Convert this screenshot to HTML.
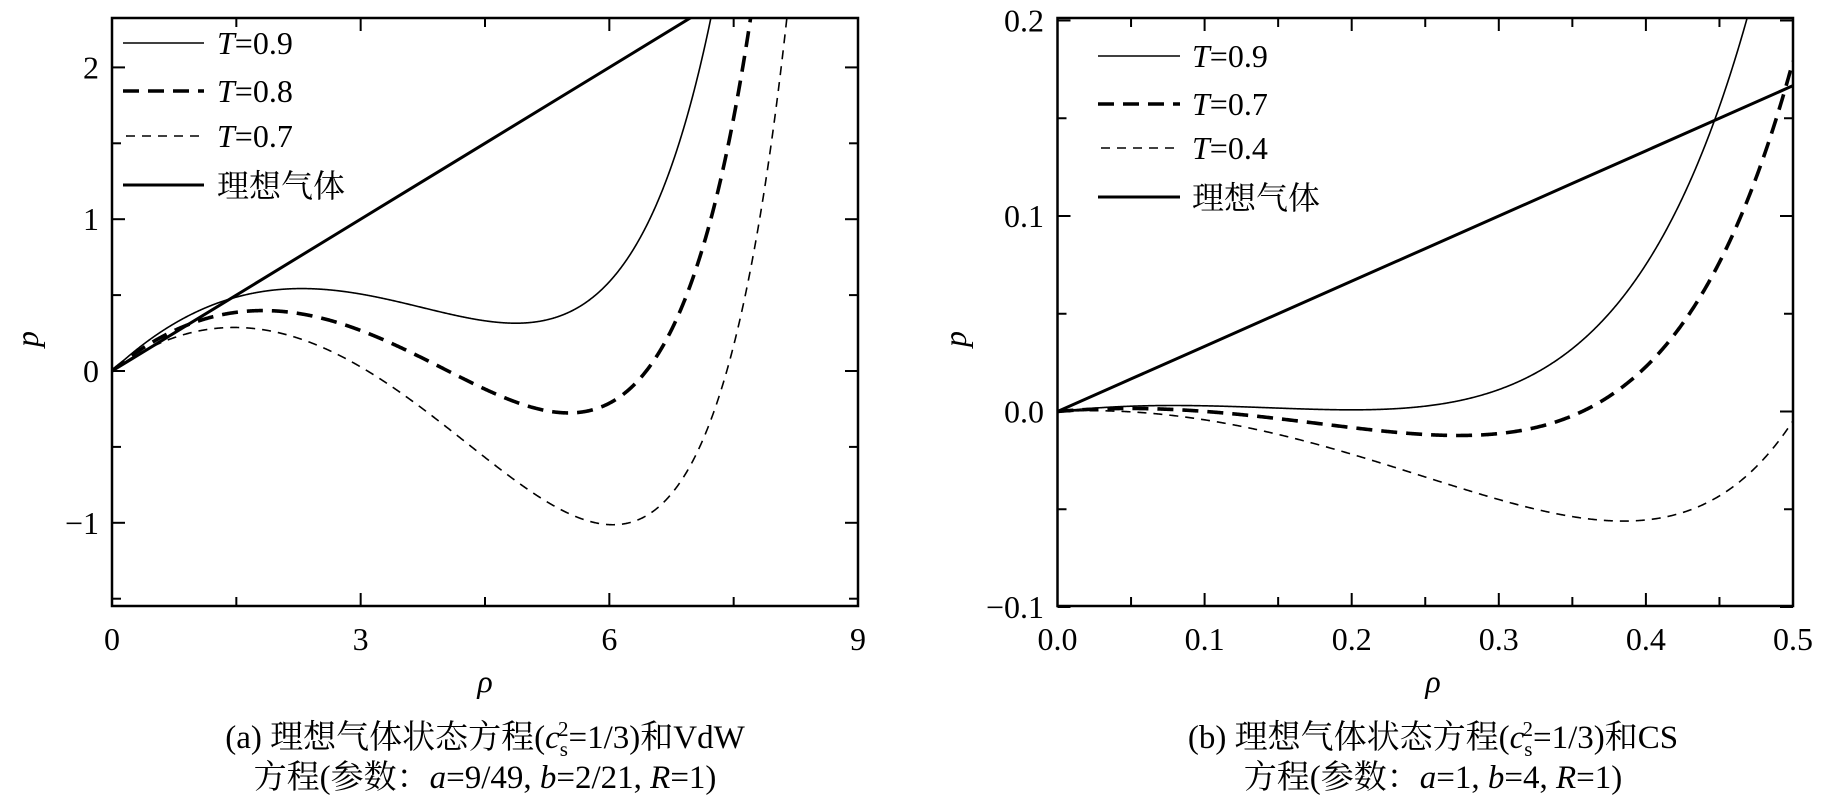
<!DOCTYPE html>
<html><head><meta charset="utf-8">
<style>
html,body{margin:0;padding:0;background:#fff;}
svg{display:block;}
text{font-family:"Liberation Serif","Noto Serif CJK SC","Noto Sans CJK SC",serif;fill:#000;}
</style></head>
<body>
<svg id="s" width="1822" height="795" viewBox="0 0 1822 795" xmlns="http://www.w3.org/2000/svg">
<defs>
<clipPath id="cl"><rect x="112" y="18" width="746" height="588"/></clipPath>
<clipPath id="cr"><rect x="1057.5" y="18" width="735.5" height="588"/></clipPath>
</defs>
<g id="g"></g>
<g stroke="#000" fill="none">
<line x1="123" y1="43" x2="204" y2="43" stroke-width="1.6"/>
<line x1="123" y1="91" x2="204" y2="91" stroke-width="3.6" stroke-dasharray="16,9"/>
<line x1="126" y1="136" x2="204" y2="136" stroke-width="1.6" stroke-dasharray="9,7"/>
<line x1="123" y1="185" x2="204" y2="185" stroke-width="3"/>
<line x1="1098" y1="56" x2="1180" y2="56" stroke-width="1.6"/>
<line x1="1098" y1="104" x2="1180" y2="104" stroke-width="3.6" stroke-dasharray="16,9"/>
<line x1="1101" y1="148" x2="1180" y2="148" stroke-width="1.6" stroke-dasharray="9,7"/>
<line x1="1098" y1="197" x2="1180" y2="197" stroke-width="3"/>
</g>
<g font-size="32">
<text x="217" y="54"><tspan font-style="italic">T</tspan>=0.9</text>
<text x="217" y="102"><tspan font-style="italic">T</tspan>=0.8</text>
<text x="217" y="147"><tspan font-style="italic">T</tspan>=0.7</text>
<text x="217" y="197" font-size="32">理想气体</text>
<text x="1192" y="67"><tspan font-style="italic">T</tspan>=0.9</text>
<text x="1192" y="115"><tspan font-style="italic">T</tspan>=0.7</text>
<text x="1192" y="159"><tspan font-style="italic">T</tspan>=0.4</text>
<text x="1192" y="209" font-size="32">理想气体</text>
</g>
<g font-size="32">
<text x="38" y="339" font-style="italic" transform="rotate(-90 38 339)" text-anchor="middle">p</text>
<text x="966" y="339" font-style="italic" transform="rotate(-90 966 339)" text-anchor="middle">p</text>
<text x="485" y="692" font-style="italic" text-anchor="middle">ρ</text>
<text x="1433" y="692" font-style="italic" text-anchor="middle">ρ</text>
</g>
<g font-size="33" text-anchor="middle">
<text x="485" y="748">(a) 理想气体状态方程(<tspan font-style="italic">c</tspan><tspan font-size="21" dy="8">s</tspan><tspan font-size="21" dx="-10" dy="-20">2</tspan><tspan dy="12">=1/3)和VdW</tspan></text>
<text x="485" y="788">方程(参数：<tspan font-style="italic">a</tspan>=9/49, <tspan font-style="italic">b</tspan>=2/21, <tspan font-style="italic">R</tspan>=1)</text>
<text x="1433" y="748">(b) 理想气体状态方程(<tspan font-style="italic">c</tspan><tspan font-size="21" dy="8">s</tspan><tspan font-size="21" dx="-10" dy="-20">2</tspan><tspan dy="12">=1/3)和CS</tspan></text>
<text x="1433" y="788">方程(参数：<tspan font-style="italic">a</tspan>=1, <tspan font-style="italic">b</tspan>=4, <tspan font-style="italic">R</tspan>=1)</text>
</g>
</svg>
<script>
var NS="http://www.w3.org/2000/svg",g=document.getElementById('g');
function el(t,a,p){var e=document.createElementNS(NS,t);for(var k in a)e.setAttribute(k,a[k]);(p||g).appendChild(e);return e;}
function txt(x,y,s,anc){var e=el('text',{x:x,y:y,'font-size':32,'text-anchor':anc});e.textContent=s;}
var L={x0:112,x1:858,y0:18,y1:606,xs:(858-112)/9,yz:371,ys:151.8};
function LX(v){return L.x0+v*L.xs;} function LY(v){return L.yz-v*L.ys;}
var R={x0:1057.5,x1:1793,y0:18,y1:606,xs:(1793-1057.5)/0.5,yz:411.5,ys:1955};
function RX(v){return R.x0+v*R.xs;} function RY(v){return R.yz-v*R.ys;}
function ticks(A,X,Y,xt,yt){
 xt.forEach(function(t){var len=t[1]?13:9;var x=X(t[0]);
  el('line',{x1:x,y1:A.y1,x2:x,y2:A.y1-len,stroke:'#000','stroke-width':2});
  el('line',{x1:x,y1:A.y0,x2:x,y2:A.y0+len,stroke:'#000','stroke-width':2});});
 yt.forEach(function(t){var len=t[1]?13:9;var y=Y(t[0]);
  el('line',{x1:A.x0,y1:y,x2:A.x0+len,y2:y,stroke:'#000','stroke-width':2});
  el('line',{x1:A.x1,y1:y,x2:A.x1-len,y2:y,stroke:'#000','stroke-width':2});});
 el('rect',{x:A.x0,y:A.y0,width:A.x1-A.x0,height:A.y1-A.y0,fill:'none',stroke:'#000','stroke-width':2.5});
}
var xt=[],yt=[];for(var i=0;i<=6;i++)xt.push([i*1.5,i%2==0]);
for(var v=-1.5;v<=2.01;v+=0.5)yt.push([v,Math.abs(v-Math.round(v))<0.01]);
ticks(L,LX,LY,xt,yt);
[0,3,6,9].forEach(function(v){txt(LX(v),650,String(v),'middle');});
[[2,'2'],[1,'1'],[0,'0'],[-1,'\u22121']].forEach(function(t){txt(99,LY(t[0])+11,t[1],'end');});
xt=[];yt=[];for(var i=0;i<=10;i++)xt.push([i*0.05,i%2==0]);
for(var i=-2;i<=4;i++)yt.push([i*0.05,i%2==0]);
ticks(R,RX,RY,xt,yt);
for(var i=0;i<=5;i++)txt(RX(i*0.1),650,(i*0.1).toFixed(1),'middle');
[[0.2,'0.2'],[0.1,'0.1'],[0,'0.0'],[-0.1,'\u22120.1']].forEach(function(t){txt(1044,RY(t[0])+11,t[1],'end');});
function path(f,a,b,n,X,Y,clip,st){var d='';for(var i=0;i<=n;i++){var r=a+(b-a)*i/n;var p=f(r);if(!isFinite(p))break;var y=Y(p);if(y<-50){d+=(i?'L':'M')+X(r).toFixed(2)+','+(-50);break;}d+=(i?'L':'M')+X(r).toFixed(2)+','+y.toFixed(2);}
 var o={d:d,fill:'none',stroke:'#000','clip-path':'url(#'+clip+')'};for(var k in st)o[k]=st[k];el('path',o);}
var a=9/49,b=2/21,Tc=8*a/(27*b);
function vdw(T){return function(r){return r*T/(1-b*r)-a*r*r;};}
var thin={'stroke-width':1.6},thick={'stroke-width':3.6,'stroke-dasharray':'16,9'},dsh={'stroke-width':1.6,'stroke-dasharray':'9,7'},ideal={'stroke-width':3};
path(vdw(0.9*Tc),0,9,1500,LX,LY,'cl',thin);
path(vdw(0.8*Tc),0,9,1500,LX,LY,'cl',thick);
path(vdw(0.7*Tc),0,9,1500,LX,LY,'cl',dsh);
path(function(r){return r/3;},0,9,10,LX,LY,'cl',ideal);
var Tcs=0.09432;
function cs(T){return function(r){var e=r;return r*T*(1+e+e*e-e*e*e)/Math.pow(1-e,3)-r*r;};}
path(cs(0.9*Tcs),0,0.5,800,RX,RY,'cr',thin);
path(cs(0.7*Tcs),0,0.5,800,RX,RY,'cr',thick);
path(cs(0.4*Tcs),0,0.5,800,RX,RY,'cr',dsh);
path(function(r){return r/3;},0,0.5,10,RX,RY,'cr',ideal);
</script>
</body></html>
